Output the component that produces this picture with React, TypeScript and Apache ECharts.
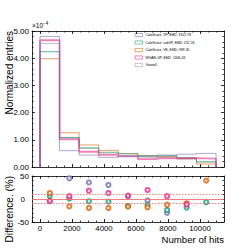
import React, { useEffect, useRef } from "react";
import * as echarts from "echarts";

// Bin edges (number of hits)
const BIN_EDGES = [0, 1222, 2444, 3667, 4889, 6111, 7333, 8556, 9778, 11000];
// Normalized entries, in units of 1e-4
const VP = [4.8, 0.6, 0.44, 0.355, 0.395, 0.37, 0.44, 0.47, 0.5];
const SUBVP = [4.24, 1.08, 0.71, 0.54, 0.485, 0.41, 0.42, 0.345, 0.195];
const VE = [3.98, 1.26, 0.81, 0.61, 0.49, 0.425, 0.38, 0.315, 0.11];
const WGAN = [4.66, 1.02, 0.56, 0.445, 0.39, 0.29, 0.32, 0.325, 0.31];
const GEANT4 = [4.54, 1.09, 0.68, 0.51, 0.42, 0.36, 0.34, 0.29, 0.18];
// Difference (%) markers, null = outside the panel
const DIFF_VP = [-5, 45, 36, 30.5, 6, -3, -30, null, null];
const DIFF_SUBVP = [6.5, 1, -5, -5.6, -15, -13, -24, -18.7, -7];
const DIFF_VE = [13, -16, -19.6, -19.6, -16.5, -18, -12.5, -9.3, 40];
const DIFF_WGAN = [-4, 6, 18, 13, 7.4, 19.5, 6, -12, null];

const X_MAJOR = [0, 2000, 4000, 6000, 8000, 10000];
const LEGEND_LABELS = [
  "CaloScore: VP, EMD :3102.78",
  "CaloScore: subVP, EMD :252.18",
  "CaloScore: VE, EMD :989.30",
  "WGAN-GP, EMD :1306.43",
  "Geant4",
];

const C_VP = "#7570b3";
const C_SUB = "#1b9e77";
const C_VE = "#d95f02";
const C_WGAN = "#e7298a";
const C_G4 = "#999999";

const FONT = "Liberation Sans, Arial, Helvetica, sans-serif";

function stepData(vals: number[]) {
  const d: number[][] = [[BIN_EDGES[0], 0]];
  vals.forEach((v, i) => d.push([BIN_EDGES[i], v]));
  const last = BIN_EDGES[BIN_EDGES.length - 1];
  d.push([last, vals[vals.length - 1]]);
  d.push([last, 0]);
  return d;
}
function centers() {
  return BIN_EDGES.slice(0, -1).map((e, i) => (e + BIN_EDGES[i + 1]) / 2);
}
function diffData(vals: (number | null)[]) {
  const c = centers();
  const out: number[][] = [];
  vals.forEach((v, i) => {
    if (v !== null) out.push([c[i], v]);
  });
  return out;
}

export default function App() {
  const ref = useRef<HTMLDivElement>(null);
  useEffect(() => {
    document.body.style.margin = "0";
    const chart = echarts.init(ref.current!, undefined, { renderer: "svg" });
    const tickStyle = { color: "#000", width: 0.8 };
    const xMinor = (grid: number, pos: string) => ({
      type: "value",
      gridIndex: grid,
      position: pos,
      min: -500,
      max: 11500,
      interval: 500,
      axisLine: { show: true, onZero: false, lineStyle: { color: "#000", width: 0.8 } },
      axisTick: { show: true, inside: true, length: 1.5, lineStyle: tickStyle },
      axisLabel: { show: false },
      splitLine: { show: false },
    });
    const xMajor = (grid: number, pos: string, labels: boolean) => ({
      type: "value",
      gridIndex: grid,
      position: pos,
      min: -500,
      max: 11500,
      axisLine: { show: false, onZero: false },
      axisTick: { show: true, inside: true, length: 3, lineStyle: tickStyle, customValues: X_MAJOR },
      axisLabel: {
        show: labels,
        customValues: X_MAJOR,
        fontSize: 7.8,
        fontFamily: FONT,
        color: "#000",
        margin: 2,
        formatter: (v: number) => String(v),
      },
      splitLine: { show: false },
    });
    const yAx = (grid: number, pos: string, min: number, max: number, interval: number, labels: boolean, fmt: any) => ({
      type: "value",
      gridIndex: grid,
      position: pos,
      min,
      max,
      interval,
      axisLine: { show: true, onZero: false, lineStyle: { color: "#000", width: 0.8 } },
      axisTick: { show: true, inside: true, length: 3, lineStyle: tickStyle },
      minorTick: { show: true, splitNumber: 5, length: 1.5, lineStyle: tickStyle },
      axisLabel: {
        show: labels,
        fontSize: 8,
        fontFamily: FONT,
        color: "#000",
        margin: 3,
        formatter: fmt,
        rich: { z: { fontSize: 8, fontFamily: FONT, padding: [0, 4, 0, 0] } },
      },
      splitLine: { show: false },
    });
    const lineSeries = (name: string, vals: number[], color: string, width: number) => ({
      name,
      type: "line",
      step: "end",
      xAxisIndex: 0,
      yAxisIndex: 0,
      showSymbol: false,
      data: stepData(vals),
      lineStyle: { color, width, opacity: 0.6 },
      itemStyle: { color },
      z: 3,
    });
    const scatterSeries = (name: string, vals: (number | null)[], color: string) => ({
      name,
      type: "scatter",
      xAxisIndex: 4,
      yAxisIndex: 2,
      symbol: "emptyCircle",
      symbolSize: 4.2,
      data: diffData(vals),
      itemStyle: { color, borderColor: color, borderWidth: 1.1 },
      z: 4,
    });
    const legendColors = [C_VP, C_SUB, C_VE, C_WGAN, C_G4];
    const legendY = [35, 42.5, 50, 57.5, 65];
    const legendGraphics: any[] = [];
    LEGEND_LABELS.forEach((t, i) => {
      legendGraphics.push({
        type: "rect",
        shape: { x: 135, y: legendY[i] - 1.6, width: 7.5, height: 3.2 },
        style: { fill: "none", stroke: legendColors[i], lineWidth: 0.8, opacity: 0.7 },
      });
      legendGraphics.push({
        type: "text",
        x: 145.5,
        y: legendY[i],
        style: { text: t, fontSize: 3.4, fontFamily: FONT, fill: "#000", verticalAlign: "middle", align: "left" },
      });
    });

    chart.setOption({
      animation: false,
      backgroundColor: "#fff",
      grid: [
        { left: 32, top: 31, width: 192, height: 136 },
        { left: 32, top: 176, width: 192, height: 46 },
      ],
      xAxis: [
        xMinor(0, "bottom"),
        xMajor(0, "bottom", false),
        xMinor(0, "top"),
        xMajor(0, "top", false),
        xMinor(1, "bottom"),
        xMajor(1, "bottom", true),
        xMinor(1, "top"),
        xMajor(1, "top", false),
      ],
      yAxis: [
        yAx(0, "left", 0, 5, 1, true, (v: number) => v.toFixed(2)),
        yAx(0, "right", 0, 5, 1, false, null),
        yAx(1, "left", -50, 50, 50, true, (v: number) => (v === 0 ? "{z|0}" : String(v))),
        yAx(1, "right", -50, 50, 50, false, null),
      ],
      series: [
        lineSeries("Geant4", GEANT4, C_G4, 1),
        lineSeries("CaloScore: VE", VE, C_VE, 1),
        lineSeries("CaloScore: subVP", SUBVP, C_SUB, 1.1),
        lineSeries("WGAN-GP", WGAN, C_WGAN, 1.8),
        lineSeries("CaloScore: VP", VP, C_VP, 1),
        {
          name: "ref",
          type: "line",
          xAxisIndex: 4,
          yAxisIndex: 2,
          data: [],
          markLine: {
            silent: true,
            symbol: "none",
            label: { show: false },
            data: [
              { yAxis: 0, lineStyle: { color: "#f07070", width: 0.9, type: "solid" } },
              { yAxis: 10, lineStyle: { color: "#f07070", width: 0.9, type: [1.5, 1.5] } },
              { yAxis: -10, lineStyle: { color: "#f07070", width: 0.9, type: [1.5, 1.5] } },
            ],
          },
        },
        scatterSeries("VP diff", DIFF_VP, C_VP),
        scatterSeries("subVP diff", DIFF_SUBVP, C_SUB),
        scatterSeries("VE diff", DIFF_VE, C_VE),
        scatterSeries("WGAN diff", DIFF_WGAN, C_WGAN),
      ],
      graphic: [
        {
          type: "text",
          x: 9.5,
          y: 31,
          rotation: Math.PI / 2,
          style: { text: "Normalized entries", fontSize: 10, fontFamily: FONT, fill: "#000", align: "right", verticalAlign: "middle" },
        },
        {
          type: "text",
          x: 9.5,
          y: 176,
          rotation: Math.PI / 2,
          style: { text: "Difference. (%)", fontSize: 10, fontFamily: FONT, fill: "#000", align: "right", verticalAlign: "middle" },
        },
        {
          type: "text",
          x: 224,
          y: 239,
          style: { text: "Number of hits", fontSize: 9.6, fontFamily: FONT, fill: "#000", align: "right", verticalAlign: "middle" },
        },
        {
          type: "text",
          x: 32,
          y: 29,
          style: {
            text: "{a|×10}{b|−4}",
            fontFamily: FONT,
            fill: "#000",
            align: "left",
            verticalAlign: "bottom",
            rich: {
              a: { fontSize: 6.5, fontFamily: FONT, verticalAlign: "bottom" },
              b: { fontSize: 4.5, fontFamily: FONT, verticalAlign: "top", padding: [0, 0, 3, 0] },
            },
          },
        },
        ...legendGraphics,
      ],
    });
    return () => chart.dispose();
  }, []);
  return <div ref={ref} style={{ width: 249, height: 249 }} />;
}
